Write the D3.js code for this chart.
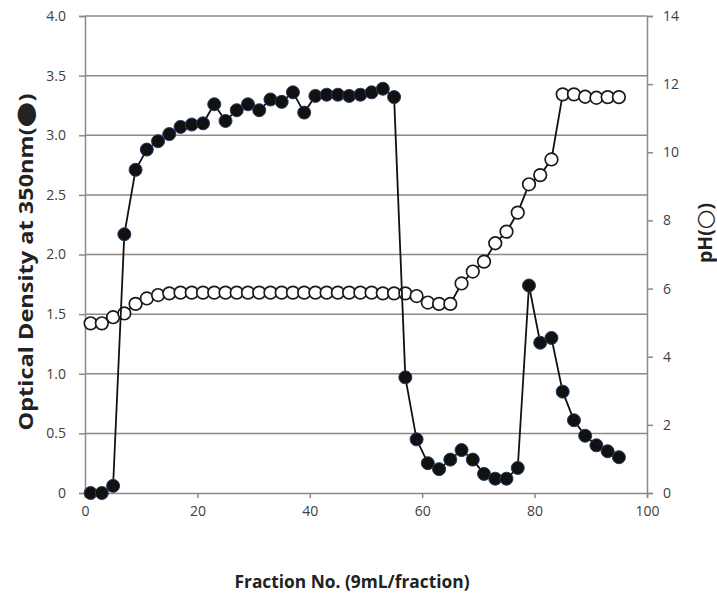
<html>
<head>
<script src="https://d3js.org/d3.v7.min.js"></script>
<style>
  body {margin: 0; background: white;}
  svg text {font-family: "Open Sans", "Liberation Sans", sans-serif;}
</style>
</head>
<body>
<svg id="chart" width="717" height="599"></svg>
<script>
// fraction numbers (every other fraction was measured)
var fractions = [1,3,5,7,9,11,13,15,17,19,21,23,25,27,29,31,33,35,37,39,41,43,45,47,
                 49,51,53,55,57,59,61,63,65,67,69,71,73,75,77,79,81,83,85,87,89,91,93,95];
// optical density at 350nm (filled circles)
var od = [0.00,0.00,0.06,2.17,2.71,2.88,2.95,3.01,3.07,3.09,3.10,3.26,3.12,3.21,3.26,3.21,
          3.30,3.28,3.36,3.19,3.33,3.34,3.34,3.33,3.34,3.36,3.39,3.32,0.97,0.45,0.25,0.20,
          0.28,0.36,0.28,0.16,0.12,0.12,0.21,1.74,1.26,1.30,0.85,0.61,0.48,0.40,0.35,0.30];
// pH (open circles)
var ph = [4.98,4.98,5.16,5.27,5.55,5.71,5.81,5.86,5.88,5.88,5.88,5.88,5.88,5.88,5.88,5.88,
          5.88,5.88,5.88,5.88,5.88,5.88,5.88,5.88,5.88,5.88,5.86,5.86,5.86,5.78,5.59,5.55,
          5.55,6.15,6.50,6.79,7.33,7.67,8.23,9.06,9.33,9.79,11.70,11.70,11.63,11.60,11.62,11.62];

var xTicks  = [0,20,40,60,80,100];
var odTicks = [0,0.5,1.0,1.5,2.0,2.5,3.0,3.5,4.0];
var phTicks = [0,2,4,6,8,10,12,14];

var plotL = 85, plotR = 647, plotT = 16, plotB = 493;
var gridColor = "#8f8884";

var svg = d3.select("#chart");

var x  = d3.scaleLinear().domain([0,100]).range([plotL,plotR]);
var y  = d3.scaleLinear().domain([0,4]).range([plotB,plotT]);
var y2 = d3.scaleLinear().domain([0,14]).range([plotB,plotT]);

// horizontal gridlines
svg.append("g").selectAll("line")
  .data(odTicks.filter(function(d){return d > 0;}))
  .enter().append("line")
  .attr("x1", plotL).attr("x2", plotR)
  .attr("y1", function(d){return y(d);}).attr("y2", function(d){return y(d);})
  .attr("stroke", gridColor).attr("stroke-width", 1.5);

function styleAxis(g, anchor) {
  g.select(".domain").attr("stroke", gridColor).attr("stroke-width", 1.5);
  g.selectAll(".tick line").attr("stroke", gridColor).attr("stroke-width", 1.5);
  g.selectAll(".tick text")
    .attr("fill", "#404040")
    .style("font-size", "14px")
    .attr("text-anchor", anchor);
}

var xAxis = d3.axisBottom(x).tickValues(xTicks).tickSizeOuter(0).tickSize(5).tickPadding(8);
var gx = svg.append("g").attr("transform", "translate(0," + plotB + ")").call(xAxis);
styleAxis(gx, "middle");

var yAxis = d3.axisLeft(y).tickValues(odTicks).tickSizeOuter(0).tickSize(6).tickPadding(13)
  .tickFormat(function(d){return d === 0 ? "0" : d3.format(".1f")(d);});
var gy = svg.append("g").attr("transform", "translate(" + plotL + ",0)").call(yAxis);
styleAxis(gy, "end");

var y2Axis = d3.axisRight(y2).tickValues(phTicks).tickSizeOuter(0).tickSize(6).tickPadding(10);
var gy2 = svg.append("g").attr("transform", "translate(" + plotR + ",0)").call(y2Axis);
styleAxis(gy2, "start");

// pH series
var phLine = d3.line()
  .x(function(d,i){return x(fractions[i]);})
  .y(function(d){return y2(d);});
svg.append("path").datum(ph)
  .attr("d", phLine)
  .attr("fill", "none").attr("stroke", "#111").attr("stroke-width", 1.8);
svg.append("g").selectAll("circle")
  .data(ph)
  .enter().append("circle")
  .attr("cx", function(d,i){return x(fractions[i]);})
  .attr("cy", function(d){return y2(d);})
  .attr("r", 6.3)
  .attr("fill", "white").attr("stroke", "#1a1a1a").attr("stroke-width", 1.7);

// optical density series
var odLine = d3.line()
  .x(function(d,i){return x(fractions[i]);})
  .y(function(d){return y(d);});
svg.append("path").datum(od)
  .attr("d", odLine)
  .attr("fill", "none").attr("stroke", "#111").attr("stroke-width", 1.8);
svg.append("g").selectAll("circle")
  .data(od)
  .enter().append("circle")
  .attr("cx", function(d,i){return x(fractions[i]);})
  .attr("cy", function(d){return y(d);})
  .attr("r", 6.5)
  .attr("fill", "#111").attr("stroke", "#23395d").attr("stroke-width", 1);

// axis titles
svg.append("text")
  .attr("x", 352).attr("y", 588)
  .attr("text-anchor", "middle")
  .attr("textLength", 235).attr("lengthAdjust", "spacingAndGlyphs")
  .style("font-size", "18px").style("font-weight", "bold").attr("fill", "#222")
  .text("Fraction No. (9mL/fraction)");

var odTitle = svg.append("text")
  .attr("transform", "translate(33,262) rotate(-90)")
  .attr("text-anchor", "middle")
  .attr("textLength", 337).attr("lengthAdjust", "spacingAndGlyphs")
  .style("font-size", "19px").style("font-weight", "bold").attr("fill", "#222");
odTitle.append("tspan").text("Optical Density at 350nm(");
odTitle.append("tspan").style("font-family", "DejaVu Sans").style("font-size", "24px").text("●");
odTitle.append("tspan").text(")");

var phTitle = svg.append("text")
  .attr("transform", "translate(712,233) rotate(-90)")
  .attr("text-anchor", "middle")
  .attr("textLength", 60).attr("lengthAdjust", "spacingAndGlyphs")
  .style("font-size", "19px").style("font-weight", "bold").attr("fill", "#222");
phTitle.append("tspan").text("pH(");
phTitle.append("tspan").style("font-family", "DejaVu Sans").style("font-size", "22px").text("○");
phTitle.append("tspan").text(")");
</script>
</body>
</html>
